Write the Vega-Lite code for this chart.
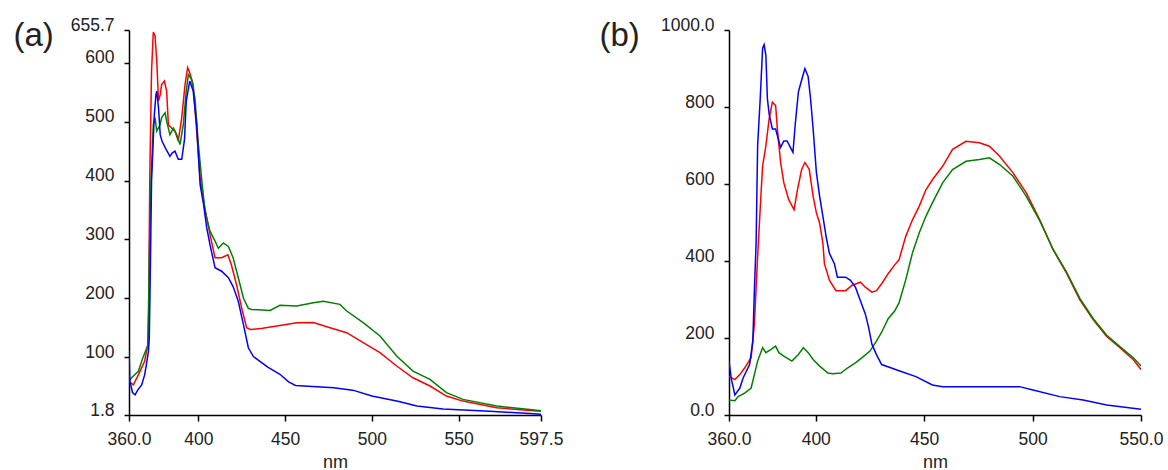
{
  "$schema": "https://vega.github.io/schema/vega-lite/v6.json",
  "background": "white",
  "padding": {"left": 13, "top": 16, "right": 0, "bottom": 8},
  "spacing": 188,
  "bounds": "flush",
  "config": {
    "view": {"stroke": null},
    "font": "Liberation Sans",
    "axis": {
      "grid": false,
      "domainColor": "#000000",
      "domainWidth": 1.5,
      "tickColor": "#000000",
      "tickWidth": 1.5,
      "labelFont": "Liberation Sans",
      "labelFontSize": 17.5,
      "labelColor": "#222222",
      "labelOverlap": false,
      "labelFlush": false,
      "titleFont": "Liberation Sans",
      "titleFontWeight": "normal",
      "titleColor": "#222222"
    },
    "axisX": {"tickSize": 6, "labelPadding": 9, "labelBaseline": "top", "titleFontSize": 18, "titleY": 52, "titleBaseline": "alphabetic"},
    "axisY": {"tickSize": 5, "labelPadding": 10, "labelBaseline": "alphabetic", "titleAngle": 0, "titleAlign": "left", "titleBaseline": "alphabetic", "titleFontSize": 33, "titleY": 15}
  },
  "datasets": {
    "a": [
      {"s": "red", "nm": 360, "v": 59}, {"s": "red", "nm": 362.5, "v": 53}, {"s": "red", "nm": 365.4, "v": 70}, {"s": "red", "nm": 369, "v": 93}, {"s": "red", "nm": 370.8, "v": 121}, {"s": "red", "nm": 371.3, "v": 178}, {"s": "red", "nm": 372, "v": 410}, {"s": "red", "nm": 373, "v": 586}, {"s": "red", "nm": 374, "v": 652}, {"s": "red", "nm": 375, "v": 646}, {"s": "red", "nm": 376, "v": 603}, {"s": "red", "nm": 377, "v": 535}, {"s": "red", "nm": 378, "v": 546}, {"s": "red", "nm": 378.8, "v": 563}, {"s": "red", "nm": 380.4, "v": 569}, {"s": "red", "nm": 381.7, "v": 552}, {"s": "red", "nm": 382.7, "v": 495}, {"s": "red", "nm": 384.6, "v": 489}, {"s": "red", "nm": 386.5, "v": 484}, {"s": "red", "nm": 388.4, "v": 467}, {"s": "red", "nm": 390.4, "v": 507}, {"s": "red", "nm": 392.3, "v": 563}, {"s": "red", "nm": 393.8, "v": 592}, {"s": "red", "nm": 395, "v": 583}, {"s": "red", "nm": 397, "v": 563}, {"s": "red", "nm": 399, "v": 484}, {"s": "red", "nm": 401, "v": 404}, {"s": "red", "nm": 403, "v": 365}, {"s": "red", "nm": 404.8, "v": 337}, {"s": "red", "nm": 406.7, "v": 308}, {"s": "red", "nm": 409.6, "v": 269}, {"s": "red", "nm": 413.4, "v": 269}, {"s": "red", "nm": 417, "v": 274}, {"s": "red", "nm": 419, "v": 257}, {"s": "red", "nm": 422, "v": 223}, {"s": "red", "nm": 425, "v": 183}, {"s": "red", "nm": 427.8, "v": 150}, {"s": "red", "nm": 430, "v": 147}, {"s": "red", "nm": 437, "v": 149}, {"s": "red", "nm": 447, "v": 154}, {"s": "red", "nm": 456.7, "v": 158.6}, {"s": "red", "nm": 466.3, "v": 159}, {"s": "red", "nm": 475.9, "v": 150}, {"s": "red", "nm": 485.5, "v": 141.6}, {"s": "red", "nm": 495, "v": 124.7}, {"s": "red", "nm": 504.7, "v": 107.7}, {"s": "red", "nm": 514.3, "v": 85}, {"s": "red", "nm": 523.7, "v": 65}, {"s": "red", "nm": 533.5, "v": 51}, {"s": "red", "nm": 543, "v": 34}, {"s": "red", "nm": 552.5, "v": 25.4}, {"s": "red", "nm": 572, "v": 14}, {"s": "red", "nm": 591, "v": 9.6}, {"s": "red", "nm": 597.5, "v": 8},

      {"s": "green", "nm": 360, "v": 59}, {"s": "green", "nm": 361.5, "v": 65}, {"s": "green", "nm": 365.4, "v": 76}, {"s": "green", "nm": 368, "v": 99}, {"s": "green", "nm": 371, "v": 121}, {"s": "green", "nm": 371.7, "v": 269}, {"s": "green", "nm": 372.7, "v": 399}, {"s": "green", "nm": 374, "v": 495}, {"s": "green", "nm": 375, "v": 507}, {"s": "green", "nm": 376, "v": 484}, {"s": "green", "nm": 378, "v": 495}, {"s": "green", "nm": 378.8, "v": 507}, {"s": "green", "nm": 380.8, "v": 515}, {"s": "green", "nm": 381.7, "v": 501}, {"s": "green", "nm": 383.6, "v": 478}, {"s": "green", "nm": 385.6, "v": 489}, {"s": "green", "nm": 387.5, "v": 478}, {"s": "green", "nm": 389.4, "v": 461}, {"s": "green", "nm": 391.3, "v": 495}, {"s": "green", "nm": 393, "v": 552}, {"s": "green", "nm": 394.2, "v": 580}, {"s": "green", "nm": 396, "v": 572}, {"s": "green", "nm": 398, "v": 540}, {"s": "green", "nm": 400, "v": 461}, {"s": "green", "nm": 402, "v": 399}, {"s": "green", "nm": 403.8, "v": 348}, {"s": "green", "nm": 406.7, "v": 314}, {"s": "green", "nm": 409.6, "v": 297}, {"s": "green", "nm": 411.5, "v": 285}, {"s": "green", "nm": 414.4, "v": 294}, {"s": "green", "nm": 417.3, "v": 288}, {"s": "green", "nm": 420, "v": 269}, {"s": "green", "nm": 423, "v": 235}, {"s": "green", "nm": 426, "v": 200}, {"s": "green", "nm": 428.8, "v": 183}, {"s": "green", "nm": 430.7, "v": 181}, {"s": "green", "nm": 441.3, "v": 179.5}, {"s": "green", "nm": 447, "v": 188}, {"s": "green", "nm": 456.7, "v": 187}, {"s": "green", "nm": 466.3, "v": 192.6}, {"s": "green", "nm": 472, "v": 195}, {"s": "green", "nm": 481.6, "v": 189.7}, {"s": "green", "nm": 485.5, "v": 178.4}, {"s": "green", "nm": 495, "v": 158.6}, {"s": "green", "nm": 504.7, "v": 136}, {"s": "green", "nm": 514.3, "v": 102}, {"s": "green", "nm": 523.7, "v": 76.4}, {"s": "green", "nm": 533.5, "v": 62.3}, {"s": "green", "nm": 543, "v": 39.7}, {"s": "green", "nm": 552.5, "v": 28.3}, {"s": "green", "nm": 572, "v": 17}, {"s": "green", "nm": 591, "v": 11.3}, {"s": "green", "nm": 597.5, "v": 9},

      {"s": "blue", "nm": 360, "v": 112}, {"s": "blue", "nm": 360.5, "v": 60}, {"s": "blue", "nm": 362, "v": 40}, {"s": "blue", "nm": 363.5, "v": 36}, {"s": "blue", "nm": 365, "v": 44}, {"s": "blue", "nm": 367.3, "v": 53}, {"s": "blue", "nm": 369, "v": 70}, {"s": "blue", "nm": 370, "v": 87}, {"s": "blue", "nm": 371.2, "v": 110}, {"s": "blue", "nm": 371.7, "v": 132}, {"s": "blue", "nm": 372.3, "v": 250}, {"s": "blue", "nm": 373, "v": 399}, {"s": "blue", "nm": 374.6, "v": 512}, {"s": "blue", "nm": 375.5, "v": 545}, {"s": "blue", "nm": 376, "v": 552}, {"s": "blue", "nm": 377, "v": 524}, {"s": "blue", "nm": 378, "v": 478}, {"s": "blue", "nm": 379, "v": 467}, {"s": "blue", "nm": 381, "v": 455}, {"s": "blue", "nm": 383.6, "v": 441}, {"s": "blue", "nm": 385, "v": 447}, {"s": "blue", "nm": 386.5, "v": 450}, {"s": "blue", "nm": 388.4, "v": 436}, {"s": "blue", "nm": 390.4, "v": 436}, {"s": "blue", "nm": 392, "v": 470}, {"s": "blue", "nm": 393, "v": 535}, {"s": "blue", "nm": 395, "v": 569}, {"s": "blue", "nm": 397, "v": 552}, {"s": "blue", "nm": 399, "v": 495}, {"s": "blue", "nm": 401, "v": 393}, {"s": "blue", "nm": 403, "v": 359}, {"s": "blue", "nm": 404.8, "v": 320}, {"s": "blue", "nm": 406.7, "v": 291}, {"s": "blue", "nm": 409.6, "v": 252}, {"s": "blue", "nm": 413.4, "v": 246}, {"s": "blue", "nm": 417.3, "v": 235}, {"s": "blue", "nm": 420, "v": 220}, {"s": "blue", "nm": 423, "v": 195}, {"s": "blue", "nm": 426, "v": 155}, {"s": "blue", "nm": 428.8, "v": 116}, {"s": "blue", "nm": 431.7, "v": 101}, {"s": "blue", "nm": 435.5, "v": 93}, {"s": "blue", "nm": 440, "v": 83}, {"s": "blue", "nm": 447, "v": 71}, {"s": "blue", "nm": 452, "v": 58}, {"s": "blue", "nm": 456, "v": 52}, {"s": "blue", "nm": 478, "v": 48}, {"s": "blue", "nm": 489, "v": 44}, {"s": "blue", "nm": 500, "v": 34}, {"s": "blue", "nm": 515, "v": 25}, {"s": "blue", "nm": 526, "v": 17}, {"s": "blue", "nm": 541, "v": 12}, {"s": "blue", "nm": 568, "v": 8}, {"s": "blue", "nm": 591, "v": 4.5}, {"s": "blue", "nm": 597.5, "v": 3}
    ],
    "b": [
      {"s": "red", "nm": 360, "v": 100}, {"s": "red", "nm": 362.7, "v": 92}, {"s": "red", "nm": 365, "v": 105}, {"s": "red", "nm": 367.2, "v": 122}, {"s": "red", "nm": 370.2, "v": 149}, {"s": "red", "nm": 371.7, "v": 236}, {"s": "red", "nm": 373.2, "v": 411}, {"s": "red", "nm": 374.7, "v": 568}, {"s": "red", "nm": 375.5, "v": 647}, {"s": "red", "nm": 377, "v": 699}, {"s": "red", "nm": 378.5, "v": 769}, {"s": "red", "nm": 380, "v": 813}, {"s": "red", "nm": 381.5, "v": 804}, {"s": "red", "nm": 382.3, "v": 743}, {"s": "red", "nm": 383.8, "v": 656}, {"s": "red", "nm": 385.3, "v": 603}, {"s": "red", "nm": 387.5, "v": 560}, {"s": "red", "nm": 390, "v": 533}, {"s": "red", "nm": 391.6, "v": 586}, {"s": "red", "nm": 393.5, "v": 638}, {"s": "red", "nm": 395, "v": 656}, {"s": "red", "nm": 397, "v": 638}, {"s": "red", "nm": 398.8, "v": 568}, {"s": "red", "nm": 400.3, "v": 525}, {"s": "red", "nm": 401.8, "v": 498}, {"s": "red", "nm": 403.3, "v": 446}, {"s": "red", "nm": 404, "v": 393}, {"s": "red", "nm": 406.3, "v": 350}, {"s": "red", "nm": 409.3, "v": 323}, {"s": "red", "nm": 413.8, "v": 323}, {"s": "red", "nm": 416.8, "v": 337}, {"s": "red", "nm": 420.6, "v": 345}, {"s": "red", "nm": 422.9, "v": 332}, {"s": "red", "nm": 425.9, "v": 319}, {"s": "red", "nm": 428, "v": 323}, {"s": "red", "nm": 430.4, "v": 341}, {"s": "red", "nm": 433.4, "v": 367}, {"s": "red", "nm": 436.4, "v": 390}, {"s": "red", "nm": 438.4, "v": 403}, {"s": "red", "nm": 441.5, "v": 464}, {"s": "red", "nm": 444.6, "v": 507}, {"s": "red", "nm": 447.7, "v": 542}, {"s": "red", "nm": 450.8, "v": 585}, {"s": "red", "nm": 453.8, "v": 611}, {"s": "red", "nm": 458.5, "v": 646}, {"s": "red", "nm": 463.1, "v": 690}, {"s": "red", "nm": 469.3, "v": 711}, {"s": "red", "nm": 475.5, "v": 707}, {"s": "red", "nm": 480.1, "v": 698}, {"s": "red", "nm": 484.8, "v": 672}, {"s": "red", "nm": 491, "v": 629}, {"s": "red", "nm": 497.1, "v": 577}, {"s": "red", "nm": 503.3, "v": 507}, {"s": "red", "nm": 509.5, "v": 429}, {"s": "red", "nm": 515.6, "v": 369}, {"s": "red", "nm": 521.8, "v": 299}, {"s": "red", "nm": 528, "v": 247}, {"s": "red", "nm": 534.2, "v": 204}, {"s": "red", "nm": 540.4, "v": 174}, {"s": "red", "nm": 546.6, "v": 143}, {"s": "red", "nm": 550, "v": 118},

      {"s": "green", "nm": 360, "v": 39}, {"s": "green", "nm": 362.7, "v": 37}, {"s": "green", "nm": 364.2, "v": 48}, {"s": "green", "nm": 367.2, "v": 57}, {"s": "green", "nm": 370.2, "v": 70}, {"s": "green", "nm": 371.7, "v": 105}, {"s": "green", "nm": 373.2, "v": 140}, {"s": "green", "nm": 375.5, "v": 175}, {"s": "green", "nm": 377, "v": 162}, {"s": "green", "nm": 379.2, "v": 170}, {"s": "green", "nm": 381.5, "v": 179}, {"s": "green", "nm": 383, "v": 162}, {"s": "green", "nm": 385.3, "v": 153}, {"s": "green", "nm": 389, "v": 140}, {"s": "green", "nm": 392, "v": 157}, {"s": "green", "nm": 394.3, "v": 175}, {"s": "green", "nm": 396.5, "v": 162}, {"s": "green", "nm": 398.8, "v": 144}, {"s": "green", "nm": 401.8, "v": 127}, {"s": "green", "nm": 405.6, "v": 109}, {"s": "green", "nm": 407.8, "v": 107}, {"s": "green", "nm": 411.6, "v": 109}, {"s": "green", "nm": 414.6, "v": 122}, {"s": "green", "nm": 418.3, "v": 135.5}, {"s": "green", "nm": 421.4, "v": 149}, {"s": "green", "nm": 425, "v": 166}, {"s": "green", "nm": 428, "v": 192}, {"s": "green", "nm": 430.4, "v": 215}, {"s": "green", "nm": 433.4, "v": 250}, {"s": "green", "nm": 436.4, "v": 270}, {"s": "green", "nm": 438.4, "v": 291}, {"s": "green", "nm": 441.5, "v": 351}, {"s": "green", "nm": 444.6, "v": 421}, {"s": "green", "nm": 447.7, "v": 473}, {"s": "green", "nm": 450.8, "v": 516}, {"s": "green", "nm": 453.8, "v": 551}, {"s": "green", "nm": 458.5, "v": 603}, {"s": "green", "nm": 463.1, "v": 637.5}, {"s": "green", "nm": 469.3, "v": 659}, {"s": "green", "nm": 475.5, "v": 663.5}, {"s": "green", "nm": 480.1, "v": 668}, {"s": "green", "nm": 484.8, "v": 650.5}, {"s": "green", "nm": 491, "v": 620}, {"s": "green", "nm": 497.1, "v": 568}, {"s": "green", "nm": 503.3, "v": 505}, {"s": "green", "nm": 509.5, "v": 430}, {"s": "green", "nm": 515.6, "v": 372}, {"s": "green", "nm": 521.8, "v": 303}, {"s": "green", "nm": 528, "v": 250}, {"s": "green", "nm": 534.2, "v": 207}, {"s": "green", "nm": 540.4, "v": 177}, {"s": "green", "nm": 546.6, "v": 148}, {"s": "green", "nm": 550, "v": 127},

      {"s": "blue", "nm": 360, "v": 140}, {"s": "blue", "nm": 361, "v": 96}, {"s": "blue", "nm": 362.7, "v": 52}, {"s": "blue", "nm": 365, "v": 70}, {"s": "blue", "nm": 366.5, "v": 96}, {"s": "blue", "nm": 369.5, "v": 131}, {"s": "blue", "nm": 371, "v": 192}, {"s": "blue", "nm": 371.7, "v": 323}, {"s": "blue", "nm": 372.5, "v": 446}, {"s": "blue", "nm": 373.2, "v": 699}, {"s": "blue", "nm": 374.4, "v": 822}, {"s": "blue", "nm": 375.5, "v": 953}, {"s": "blue", "nm": 376.2, "v": 962}, {"s": "blue", "nm": 377, "v": 935}, {"s": "blue", "nm": 377.7, "v": 822}, {"s": "blue", "nm": 378.5, "v": 782}, {"s": "blue", "nm": 380, "v": 743}, {"s": "blue", "nm": 381.5, "v": 743}, {"s": "blue", "nm": 383.8, "v": 695}, {"s": "blue", "nm": 385.3, "v": 712}, {"s": "blue", "nm": 386.8, "v": 712}, {"s": "blue", "nm": 388.3, "v": 695}, {"s": "blue", "nm": 389.5, "v": 682}, {"s": "blue", "nm": 390.5, "v": 752}, {"s": "blue", "nm": 392, "v": 839}, {"s": "blue", "nm": 393.5, "v": 870}, {"s": "blue", "nm": 395, "v": 900}, {"s": "blue", "nm": 396.5, "v": 879}, {"s": "blue", "nm": 397.6, "v": 822}, {"s": "blue", "nm": 398.8, "v": 743}, {"s": "blue", "nm": 400.3, "v": 630}, {"s": "blue", "nm": 401.8, "v": 568}, {"s": "blue", "nm": 403.3, "v": 516}, {"s": "blue", "nm": 404.8, "v": 463}, {"s": "blue", "nm": 406.3, "v": 420}, {"s": "blue", "nm": 408.6, "v": 393}, {"s": "blue", "nm": 410, "v": 358}, {"s": "blue", "nm": 413.8, "v": 358}, {"s": "blue", "nm": 416, "v": 350}, {"s": "blue", "nm": 418.3, "v": 332}, {"s": "blue", "nm": 420.6, "v": 297}, {"s": "blue", "nm": 422.9, "v": 262}, {"s": "blue", "nm": 424.4, "v": 227}, {"s": "blue", "nm": 425.9, "v": 184}, {"s": "blue", "nm": 428, "v": 157}, {"s": "blue", "nm": 430.4, "v": 131}, {"s": "blue", "nm": 434.9, "v": 122}, {"s": "blue", "nm": 438.4, "v": 115}, {"s": "blue", "nm": 446.2, "v": 99.7}, {"s": "blue", "nm": 453.8, "v": 78}, {"s": "blue", "nm": 458.5, "v": 73.7}, {"s": "blue", "nm": 494, "v": 73.7}, {"s": "blue", "nm": 500.2, "v": 65}, {"s": "blue", "nm": 512.5, "v": 47.7}, {"s": "blue", "nm": 523.3, "v": 39}, {"s": "blue", "nm": 534.2, "v": 26}, {"s": "blue", "nm": 550, "v": 15}
    ]
  },
  "hconcat": [
    {
      "width": 412,
      "height": 385,
      "data": {"name": "a"},
      "mark": {"type": "line", "strokeWidth": 1.5, "clip": true},
      "encoding": {
        "x": {
          "field": "nm", "type": "quantitative",
          "scale": {"domain": [360, 597.5], "nice": false, "zero": false},
          "axis": {
            "title": "nm", "titleX": 206,
            "values": [360, 400, 450, 500, 550, 597.5],
            "labelExpr": "datum.value == 360 ? '360.0' : datum.value == 597.5 ? '597.5' : format(datum.value, 'd')"
          }
        },
        "y": {
          "field": "v", "type": "quantitative",
          "scale": {"domain": [1.8, 655.7], "nice": false, "zero": false},
          "axis": {
            "title": "(a)", "titleX": -116,
            "values": [1.8, 100, 200, 300, 400, 500, 600, 655.7],
            "labelExpr": "datum.value == 1.8 ? '1.8' : datum.value == 655.7 ? '655.7' : format(datum.value, 'd')"
          }
        },
        "color": {
          "field": "s", "type": "nominal",
          "scale": {"domain": ["red", "green", "blue"], "range": ["#ff0000", "#008000", "#0000ff"]},
          "legend": null
        }
      }
    },
    {
      "width": 412,
      "height": 385,
      "data": {"name": "b"},
      "mark": {"type": "line", "strokeWidth": 1.5, "clip": true},
      "encoding": {
        "x": {
          "field": "nm", "type": "quantitative",
          "scale": {"domain": [360, 550], "nice": false, "zero": false},
          "axis": {
            "title": "nm", "titleX": 206,
            "values": [360, 400, 450, 500, 550],
            "labelExpr": "datum.value == 360 ? '360.0' : datum.value == 550 ? '550.0' : format(datum.value, 'd')"
          }
        },
        "y": {
          "field": "v", "type": "quantitative",
          "scale": {"domain": [0, 1000], "nice": false},
          "axis": {
            "title": "(b)", "titleX": -130,
            "values": [0, 200, 400, 600, 800, 1000],
            "labelExpr": "datum.value == 0 ? '0.0' : datum.value == 1000 ? '1000.0' : format(datum.value, 'd')"
          }
        },
        "color": {
          "field": "s", "type": "nominal",
          "scale": {"domain": ["red", "green", "blue"], "range": ["#ff0000", "#008000", "#0000ff"]},
          "legend": null
        }
      }
    }
  ]
}
